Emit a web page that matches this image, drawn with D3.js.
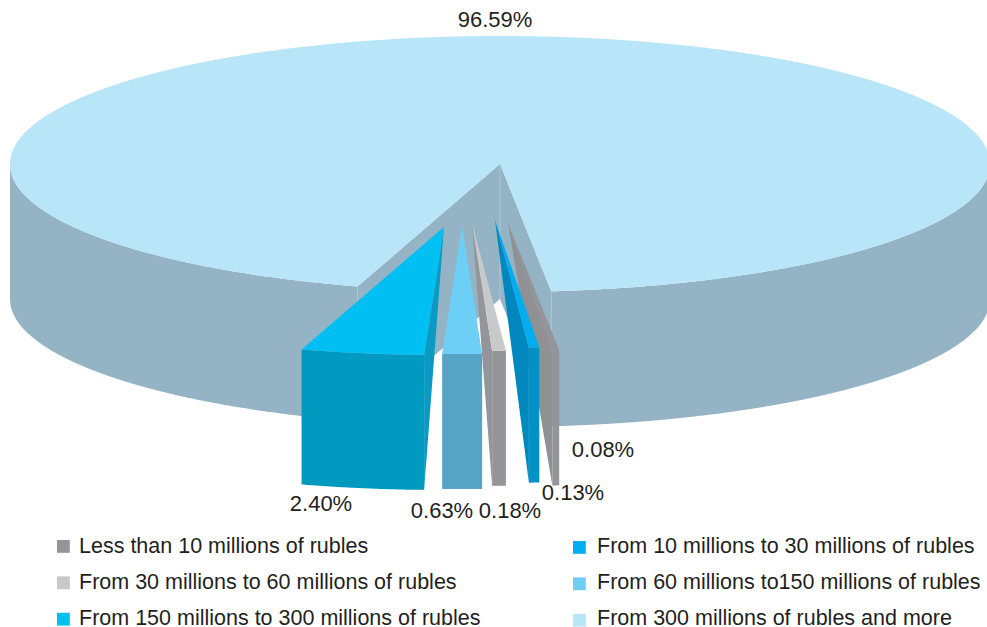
<!DOCTYPE html>
<html>
<head>
<meta charset="utf-8">
<script src="https://cdn.jsdelivr.net/npm/d3@7"></script>
<style>
  html, body { margin: 0; padding: 0; background: #ffffff; }
  svg { display: block; }
  text { font-family: "Liberation Sans", Arial, Helvetica, sans-serif; fill: #231f20; }
</style>
</head>
<body>
<svg id="chart" width="987" height="627"></svg>
<script>
// Companies grouped by size band, share of the total in percent
const categories = [
  "Less than 10 millions of rubles",
  "From 10 millions to 30 millions of rubles",
  "From 30 millions to 60 millions of rubles",
  "From 60 millions to150 millions of rubles",
  "From 150 millions to 300 millions of rubles",
  "From 300 millions of rubles and more"
];
const shares = [0.08, 0.13, 0.18, 0.63, 2.40, 96.59];
const shareLabels = ["0.08%", "0.13%", "0.18%", "0.63%", "2.40%", "96.59%"];

// Face colours per slice: top, cut side, outer wall
const topColors  = ["#939598", "#00aeef", "#c8c9cb", "#6dcff6", "#00bff3", "#b9e5f8"];
const sideColors = ["#8f9194", "#0088be", "#939598", "#5aaed0", "#0a9ac4", "#94b4c6"];
const wallColors = ["#939598", "#0091c6", "#939598", "#57a5c6", "#0099c0", "#94b4c6"];
const legendColors = ["#939598", "#00aeef", "#c7c8ca", "#6dcff6", "#00bff3", "#b9e5f8"];

// Layout: how far each slice is pulled out, and where its label sits
const explode  = [[8, 59], [-5, 56], [-28, 59], [-38, 62], [-56, 63], [0, 0]];
const labelPos = [[603, 457], [573, 500], [510, 518], [442, 518], [321, 511], [495, 27]];

const svg = d3.select("#chart");
const cx = 500, cy = 164, rx = 490, ry = 128, depth = 135;
const deg = Math.PI / 180;

// Small shares are widened with a power scale so they stay visible
const weight = d3.scalePow().exponent(0.85).domain([0, 100]).range([0, 100]);
const start = 174 * deg;
const pie = d3.pie().sort(null).value(d => weight(d))
  .startAngle(start).endAngle(start + 2 * Math.PI);
const arcs = pie(shares).map((d, i) => ({ ...d, i, off: explode[i] }));

const P = (a, o, dz = 0) => [cx + o[0] + rx * Math.sin(a), cy + o[1] - ry * Math.cos(a) + dz];
const arcPts = (a0, a1, o, dz = 0) => {
  const n = Math.max(8, Math.ceil(Math.abs(a1 - a0) / 0.004));
  return d3.range(n + 1).map(k => P(a0 + (a1 - a0) * k / n, o, dz));
};
const line = d3.line().curve(d3.curveLinearClosed);

// Parts of the rim that face the viewer
function visibleRanges(a0, a1) {
  const out = [];
  for (let k = -1; k <= 2; k++) {
    const lo = Math.max(a0, Math.PI / 2 + 2 * Math.PI * k);
    const hi = Math.min(a1, 1.5 * Math.PI + 2 * Math.PI * k);
    if (hi > lo) out.push([lo, hi]);
  }
  return out;
}

function drawSlice(d, g, solidCore) {
  const o = d.off, a0 = d.startAngle, a1 = d.endAngle, i = d.i;
  const apex = [cx + o[0], cy + o[1]];
  // cut faces: visible when turned toward the viewer
  const faces = [];
  if (-Math.sin(a0) > 0) faces.push(a0);
  if (Math.sin(a1) > 0) faces.push(a1);
  faces.forEach(a => {
    const pts = solidCore
      ? [apex, P(a, o), P(a, o, depth), [apex[0], apex[1] + depth]]
      : [apex, P(a, o), P(a, o, depth)];
    g.append("path").attr("d", line(pts)).attr("fill", sideColors[i]);
  });
  // outer wall
  visibleRanges(a0, a1).forEach(([lo, hi]) => {
    const pts = arcPts(lo, hi, o).concat(arcPts(hi, lo, o, depth));
    g.append("path").attr("d", line(pts)).attr("fill", wallColors[i]);
  });
  // top face
  g.append("path").attr("d", line([apex].concat(arcPts(a0, a1, o))))
    .attr("fill", topColors[i]);
  if (solidCore) {
    // light seams along the vertical edges of the cut
    [[apex, [apex[0], apex[1] + depth]], [P(a0, o), P(a0, o, depth)], [P(a1, o), P(a1, o, depth)]]
      .forEach(s => g.append("path").attr("d", d3.line()(s))
        .attr("stroke", "#a9c5d4").attr("stroke-width", 1).attr("fill", "none"));
  }
}

const pieG = svg.append("g");
const big = arcs[arcs.length - 1];
drawSlice(big, pieG.append("g"), true);

// pulled-out slices, back to front
arcs.slice(0, -1)
  .sort((a, b) => Math.abs((b.startAngle + b.endAngle) / 2 - Math.PI) - Math.abs((a.startAngle + a.endAngle) / 2 - Math.PI))
  .forEach(d => drawSlice(d, pieG.append("g"), false));

// value labels
svg.append("g").selectAll("text").data(shareLabels).join("text")
  .attr("x", (d, i) => labelPos[i][0])
  .attr("y", (d, i) => labelPos[i][1])
  .attr("text-anchor", "middle")
  .attr("font-size", 22)
  .text(d => d);

// legend, two columns
const colSquare = [57, 573], colText = [79, 597];
const rowBase = d3.scaleLinear().domain([0, 2]).range([552.5, 625.3]);
const leg = svg.append("g").selectAll("g").data(categories).join("g")
  .attr("transform", (d, i) => `translate(0,${rowBase(Math.floor(i / 2))})`);
leg.append("rect")
  .attr("x", (d, i) => colSquare[i % 2])
  .attr("y", (d, i) => i % 2 ? -11.5 : -12.5)
  .attr("width", 12.8).attr("height", 12.8)
  .attr("fill", (d, i) => legendColors[i]);
leg.append("text")
  .attr("x", (d, i) => colText[i % 2])
  .attr("font-size", 21.5)
  .text(d => d);
</script>
</body>
</html>
